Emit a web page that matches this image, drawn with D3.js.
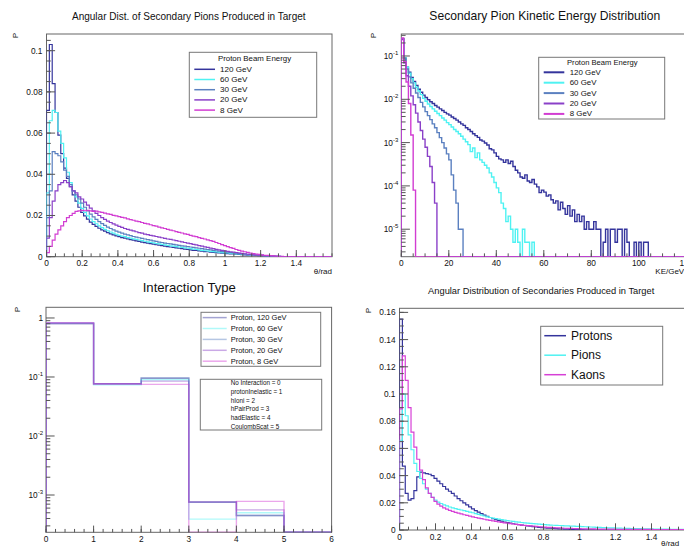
<!DOCTYPE html>
<html>
<head>
<meta charset="utf-8">
<script src="https://cdn.jsdelivr.net/npm/d3@7"></script>
<style>
body { margin: 0; background: #fff; }
svg { display: block; font-family: "Liberation Sans", Arial, sans-serif; }
</style>
</head>
<body>
<svg id="canvas" width="684" height="548"></svg>
<script>
// ---------- data ----------
var beamLabels = ["120 GeV", "60 GeV", "30 GeV", "20 GeV", "8 GeV"];
var particleLabels = ["Protons", "Pions", "Kaons"];
var processLabels = ["No Interaction = 0", "protonInelastic = 1", "hIoni = 2",
                     "hPairProd = 3", "hadElastic = 4", "CoulombScat = 5"];

// panel 1: pion angle (100 bins of 0.016 rad, missing bins are empty)
var piAng120 = [0.071,0.103,0.084,0.070,0.059,0.050,0.043,0.038,0.034,0.030,0.027,0.024,0.0215,
  0.0198,0.0182,0.0168,0.0157,0.0147,0.0138,0.0130,0.0124,0.0117,0.0111,0.0106,0.0101,
  0.0097,0.0093,0.0090,0.0087,0.0083,0.0080,0.0077,0.0074,0.0071,0.0068,0.0066,0.0063,0.0061,
  0.0058,0.0056,0.0054,0.0051,0.0049,0.0047,0.0045,0.0043,0.0041,0.0039,0.0037,0.0035,0.0033,
  0.0031,0.0030,0.0028,0.0027,0.0025,0.0024,0.0022,0.0021,0.0020,0.0018,0.0017,0.0016,0.0015,
  0.0014,0.0013,0.0012,0.0011,0.0010,0.0009,0.0008,0.0008,0.0007,0.0006,0.0005,0.0005,0.0004,
  0.0003,0.0003,0.0002,0.0002,0.0001,0.0001,0.00005,0.00003];
var piAng60 = [0.031,0.066,0.071,0.070,0.061,0.055,0.048,0.041,0.036,0.032,0.029,0.026,0.0235,
  0.0215,0.0198,0.0183,0.0170,0.0160,0.0150,0.0141,0.0133,0.0126,0.0120,0.0114,0.0109,
  0.0104,0.0100,0.0097,0.0093,0.0090,0.0087,0.0084,0.0081,0.0078,0.0075,0.0072,0.0070,0.0067,
  0.0064,0.0062,0.0060,0.0057,0.0055,0.0053,0.0051,0.0049,0.0047,0.0045,0.0043,0.0041,0.0039,
  0.0037,0.0035,0.0033,0.0031,0.0029,0.0028,0.0026,0.0025,0.0023,0.0022,0.0020,0.0019,0.0018,
  0.0016,0.0015,0.0014,0.0013,0.0012,0.0011,0.0010,0.0009,0.0008,0.0007,0.0006,0.0006,0.0005,
  0.0004,0.0003,0.0003,0.0002,0.0002,0.0001,0.0001,0.00005,0.00003];
var piAng30 = [0.019,0.032,0.051,0.050,0.049,0.046,0.042,0.039,0.035,0.032,0.030,0.028,0.026,
  0.0240,0.0222,0.0207,0.0193,0.0181,0.0170,0.0161,0.0152,0.0144,0.0137,0.0130,0.0124,
  0.0119,0.0114,0.0110,0.0106,0.0102,0.0098,0.0095,0.0092,0.0089,0.0086,0.0083,0.0080,0.0077,
  0.0074,0.0071,0.0069,0.0066,0.0064,0.0062,0.0060,0.0057,0.0055,0.0053,0.0051,0.0049,0.0047,
  0.0045,0.0043,0.0041,0.0039,0.0037,0.0035,0.0033,0.0031,0.0029,0.0027,0.0025,0.0024,0.0022,
  0.0020,0.0019,0.0017,0.0016,0.0014,0.0013,0.0012,0.0011,0.0009,0.0008,0.0007,0.0006,0.0005,
  0.0004,0.0004,0.0003,0.0002,0.0002,0.0001,0.0001,0.00005,0.00003];
var piAng20 = [0.009,0.019,0.027,0.032,0.035,0.036,0.037,0.036,0.034,0.032,0.031,0.029,0.028,
  0.0265,0.0250,0.0236,0.0222,0.0210,0.0200,0.0190,0.0181,0.0173,0.0166,0.0159,0.0153,
  0.0147,0.0142,0.0137,0.0133,0.0129,0.0125,0.0121,0.0117,0.0114,0.0110,0.0107,0.0104,0.0101,
  0.0098,0.0095,0.0092,0.0089,0.0086,0.0084,0.0081,0.0078,0.0075,0.0072,0.0069,0.0066,0.0063,
  0.0060,0.0057,0.0054,0.0051,0.0048,0.0045,0.0042,0.0039,0.0036,0.0033,0.0031,0.0028,0.0026,
  0.0024,0.0022,0.0020,0.0018,0.0016,0.0014,0.0012,0.0011,0.0009,0.0008,0.0007,0.0006,0.0005,
  0.0004,0.0003,0.0003,0.0002,0.0002,0.0001,0.0001,0.00005,0.00003];
var piAng8 = [0.002,0.005,0.008,0.011,0.013,0.015,0.017,0.019,0.020,0.021,0.022,0.0222,0.0225,
  0.0223,0.0225,0.0222,0.0220,0.0221,0.0218,0.0215,0.0212,0.0208,0.0205,0.0201,0.0198,
  0.0195,0.0191,0.0188,0.0184,0.0180,0.0177,0.0173,0.0170,0.0166,0.0162,0.0159,0.0155,0.0151,
  0.0148,0.0144,0.0140,0.0137,0.0133,0.0129,0.0126,0.0122,0.0118,0.0115,0.0111,0.0108,0.0104,
  0.0100,0.0097,0.0093,0.0089,0.0086,0.0082,0.0078,0.0074,0.0069,0.0064,0.0059,0.0054,0.0049,
  0.0044,0.0040,0.0035,0.0031,0.0027,0.0024,0.0021,0.0018,0.0015,0.0013,0.0011,0.0009,0.0007,
  0.0006,0.0005,0.0004,0.0003,0.0002,0.0002,0.0001,0.00005,0.00003];

// panel 2: pion kinetic energy (1 GeV bins, 0..120 GeV)
var piKE120 = [0.25,0.090,0.055,0.042,0.032,0.026,0.021,0.017,0.0145,0.0125,
  0.011,0.0098,0.0088,0.0080,0.0072,0.0066,0.0060,0.0055,0.0050,0.0046,
  0.0043,0.0039,0.0036,0.0033,0.0030,0.0027,0.0025,0.0022,0.0020,0.0018,
  0.0016,0.00145,0.00132,0.00115,0.00108,0.00098,0.00088,0.00072,0.00068,0.00058,
  0.00048,0.00042,0.00040,0.00035,0.00040,0.00033,0.00037,0.00028,0.00023,0.00020,
  0.00016,0.00015,0.00018,0.00013,0.00012,0.00014,0.00011,0.000095,0.00007,0.00008,
  7.2e-5,5.8e-5,6.2e-5,4.8e-5,4.0e-5,4.5e-5,2.8e-5,4.2e-5,3.0e-5,2.2e-5,
  3.5e-5,2.0e-5,2.8e-5,1.5e-5,2.2e-5,1.5e-5,2.0e-5,1.0e-5,1.5e-5,1.0e-5,
  1.0e-5,1.5e-5,1.0e-5,1.0e-5,0,5e-6,1.0e-5,0,1.0e-5,1.0e-5,
  5e-6,1.0e-5,1.0e-5,0,1.0e-5,5e-6,0,0,5e-6,0,
  5e-6,0,5e-6,5e-6];
var piKE60 = [0.25,0.090,0.055,0.040,0.030,0.024,0.019,0.0155,0.0128,0.0105,
  0.0090,0.0078,0.0068,0.0060,0.0053,0.0047,0.0042,0.0037,0.0033,0.0029,
  0.0026,0.0023,0.0020,0.0018,0.0016,0.0014,0.0012,0.00105,0.00090,0.00062,
  0.00075,0.00045,0.00058,0.00040,0.00035,0.00030,0.00026,0.00020,0.00016,0.00012,
  9e-5,7e-5,4e-5,3e-5,1.5e-5,2e-5,1e-5,5e-6,1e-5,5e-6,
  0,1e-5,5e-6,5e-6,0,5e-6];
var piKE30 = [0.25,0.085,0.050,0.033,0.024,0.018,0.014,0.011,0.0085,0.0067,
  0.0052,0.0042,0.0034,0.0027,0.0022,0.0017,0.0013,0.0010,0.00075,0.00055,
  0.00040,0.00018,0.00008,0.00004,1e-5,1e-5];
var piKE20 = [0.24,0.070,0.035,0.020,0.012,0.0075,0.0048,0.0030,0.0019,0.0012,
  0.00078,0.00048,0.00028,0.00012,0.00004];
var piKE8 = [0.26,0.075,0.025,0.008,0.0015,0.00008];

// panel 3: interaction type (bins 0..5)
var procP120 = [0.80, 0.077, 0.095, 7.6e-4, 4.5e-4, 0];
var procP60  = [0.82, 0.074, 0.090, 3.9e-4, 5.0e-4, 0];
var procP30  = [0.81, 0.077, 0.096, 7.5e-4, 4.5e-4, 0];
var procP20  = [0.82, 0.077, 0.085, 7.6e-4, 5.6e-4, 0];
var procP8   = [0.83, 0.076, 0.075, 0, 7.8e-4, 0];

// panel 4: secondaries angle (100 bins of 0.016 rad)
var protonAng = [0.155,0.047,0.027,0.022,0.023,0.029,0.039,0.0425,0.042,0.0415,
  0.041,0.040,0.038,0.036,0.034,0.032,0.030,0.0285,0.027,0.025,
  0.023,0.0215,0.020,0.0185,0.017,0.0155,0.0143,0.0132,0.0121,0.011,
  0.0101,0.0092,0.0084,0.0077,0.0071,0.0065,0.0059,0.0055,0.0050,0.0046,
  0.0042,0.0039,0.0036,0.0033,0.0030,0.0028,0.0025,0.0023,0.0020,0.0018,
  0.0016,0.0014,0.0013,0.0011,0.0010,0.0009,0.0008,0.0007,0.0006,0.0005,
  0.0004,0.0004,0.0003,0.0003,0.0002,0.0002,0.0002,0.0001,0.0001,0.0001,0.00005];
var pionAng = [0.066,0.100,0.084,0.070,0.059,0.049,0.043,0.038,0.034,0.030,
  0.027,0.024,0.022,0.0205,0.0195,0.0185,0.0177,0.0169,0.0163,0.0157,
  0.0152,0.0147,0.0142,0.0137,0.0132,0.0127,0.0121,0.0115,0.0109,0.0103,
  0.0097,0.0092,0.0088,0.0084,0.0080,0.0076,0.0072,0.0069,0.0066,0.0063,
  0.0060,0.0058,0.0055,0.0053,0.0051,0.0049,0.0047,0.0045,0.0043,0.0041,
  0.0039,0.0038,0.0036,0.0035,0.0034,0.0033,0.0032,0.0031,0.0030,0.0029,
  0.0028,0.0027,0.0026,0.0025,0.0024,0.0023,0.0022,0.0021,0.0020,0.0019,
  0.0018,0.0017,0.0016,0.0016,0.0015,0.0014,0.0014,0.0013,0.0012,0.0012,
  0.0011,0.0011,0.0010,0.0010,0.0009,0.0009,0.0008,0.0008,0.0007,0.0007,
  0.0007,0.0006,0.0006,0.0006,0.0005,0.0005,0.0005,0.0004,0.0004,0.0004];
var kaonAng = [0.089,0.128,0.110,0.090,0.072,0.061,0.052,0.044,0.037,0.031,
  0.027,0.024,0.021,0.019,0.0175,0.0163,0.0153,0.0145,0.0137,0.0130,
  0.0124,0.0118,0.0112,0.0107,0.0102,0.0097,0.0092,0.0088,0.0083,0.0079,
  0.0075,0.0071,0.0067,0.0063,0.0060,0.0056,0.0053,0.0050,0.0047,0.0044,
  0.0041,0.0039,0.0036,0.0034,0.0032,0.0030,0.0028,0.0026,0.0024,0.0023,
  0.0021,0.0020,0.0019,0.0017,0.0016,0.0015,0.0014,0.0013,0.0012,0.0012,
  0.0011,0.0010,0.0010,0.0009,0.0009,0.0008,0.0008,0.0008,0.0007,0.0007,
  0.0007,0.0006,0.0006,0.0006,0.0006,0.0005,0.0005,0.0005,0.0005,0.0005,
  0.0004,0.0004,0.0004,0.0004,0.0004,0.0004,0.0004,0.0004,0.0003,0.0003,
  0.0003,0.0003,0.0003,0.0003,0.0003,0.0003,0.0003,0.0003,0.0003,0.0003];

// tick values
var angXTicks = [0, 0.2, 0.4, 0.6, 0.8, 1, 1.2, 1.4];
var p1YTicks = [0, 0.02, 0.04, 0.06, 0.08, 0.1];
var keXTicks = [0, 20, 40, 60, 80, 100, 120];
var procXTicks = [0, 1, 2, 3, 4, 5, 6];
var p4YTicks = [0, 0.02, 0.04, 0.06, 0.08, 0.1, 0.12, 0.14, 0.16];

// ---------- styling ----------
var beamColors = ["#34349c", "#4ff2f2", "#5b80c0", "#8a40c8", "#d23cd2"];
var partColors = ["#34349c", "#4ff2f2", "#d640d6"];
var tickFont = 8.3;

var svg = d3.select("#canvas");
svg.append("rect").attr("width", 684).attr("height", 548).attr("fill", "#fff");

function makeFrame(id, f) {
  svg.append("clipPath").attr("id", id).append("rect")
    .attr("x", f.x0).attr("y", f.y0).attr("width", f.x1 - f.x0).attr("height", f.y1 - f.y0);
  var g = svg.append("g");
  g.append("rect").attr("x", f.x0).attr("y", f.y0)
    .attr("width", f.x1 - f.x0).attr("height", f.y1 - f.y0)
    .attr("fill", "none").attr("stroke", "#666").attr("stroke-width", 1);
  return g;
}

function drawHist(g, clip, xs, ys, binW, nBins, vals, color, lw, op) {
  var yb = ys.range()[0], yt = ys.range()[1];
  function yOf(v) {
    if (!(v > 0)) return yb;
    return Math.max(yt, Math.min(yb, ys(v)));
  }
  var pts = [[xs(0), yb]];
  for (var i = 0; i < nBins; i++) {
    var yy = yOf(vals[i] || 0);
    pts.push([xs(i * binW), yy]);
    pts.push([xs((i + 1) * binW), yy]);
  }
  pts.push([xs(nBins * binW), yb]);
  g.append("path").attr("clip-path", "url(#" + clip + ")")
    .attr("d", d3.line()(pts))
    .attr("fill", "none").attr("stroke", color)
    .attr("stroke-width", lw).attr("stroke-opacity", op || 1)
    .attr("stroke-linejoin", "miter");
}

function tick(g, x1, y1, x2, y2) {
  g.append("line").attr("x1", x1).attr("y1", y1).attr("x2", x2).attr("y2", y2)
    .attr("stroke", "#555").attr("stroke-width", 1);
}

function xAxis(g, xs, yb, majors, minorStep, len, fmt) {
  var d = xs.domain();
  d3.range(d[0], d[1] + 1e-9, minorStep).forEach(function(v) {
    tick(g, xs(v), yb, xs(v), yb - len / 2);
  });
  majors.forEach(function(v) {
    tick(g, xs(v), yb, xs(v), yb - len);
    g.append("text").attr("x", xs(v)).attr("y", yb + 9.5)
      .attr("text-anchor", "middle").attr("font-size", tickFont).attr("fill", "#111")
      .text(fmt(v));
  });
}

function yAxisLin(g, ys, xl, majors, minorStep, len, fmt) {
  var d = ys.domain();
  d3.range(d[0], d[1] + 1e-9, minorStep).forEach(function(v) {
    tick(g, xl, ys(v), xl + len / 2, ys(v));
  });
  majors.forEach(function(v) {
    tick(g, xl, ys(v), xl + len, ys(v));
    g.append("text").attr("x", xl - 4).attr("y", ys(v) + 3)
      .attr("text-anchor", "end").attr("font-size", tickFont).attr("fill", "#111")
      .text(fmt(v));
  });
}

function yAxisLog(g, ys, xl, len) {
  var d = ys.domain();
  var lo = Math.floor(Math.log10(d[0])), hi = Math.ceil(Math.log10(d[1]));
  for (var e = lo; e <= hi; e++) {
    for (var k = 2; k <= 9; k++) {
      var v = k * Math.pow(10, e);
      if (v >= d[0] && v <= d[1]) tick(g, xl, ys(v), xl + len / 2, ys(v));
    }
    var m = Math.pow(10, e);
    if (m < d[0] || m > d[1]) continue;
    tick(g, xl, ys(m), xl + len, ys(m));
    var t = g.append("text").attr("x", xl - 3).attr("y", ys(m) + 3)
      .attr("text-anchor", "end").attr("font-size", tickFont).attr("fill", "#111");
    if (e === 0) { t.text("1"); continue; }
    t.append("tspan").text("10");
    t.append("tspan").attr("dy", -4).attr("font-size", 6).text(String(e));
  }
}

function title(txt, cx, cy, w) {
  var t = svg.append("text").attr("x", cx).attr("y", cy).attr("text-anchor", "middle")
    .attr("dominant-baseline", "central").attr("fill", "#111").attr("font-size", 10).text(txt);
  var len = t.node().getComputedTextLength();
  t.attr("font-size", 10 * w / len);
}

function yTitle(x, y) {
  svg.append("text").attr("transform", "translate(" + x + "," + y + ") rotate(-90)")
    .attr("text-anchor", "end").attr("font-size", 8).attr("fill", "#111").text("P");
}

function xTitle(txt, x, y, anchor) {
  svg.append("text").attr("x", x).attr("y", y).attr("text-anchor", anchor)
    .attr("font-size", 8).attr("fill", "#111").text(txt);
}

function legendBox(x, y, w, h) {
  svg.append("rect").attr("x", x).attr("y", y).attr("width", w).attr("height", h)
    .attr("fill", "#fff").attr("stroke", "#777").attr("stroke-width", 1);
}

function legendEntry(lx0, lx1, tx, cy, color, lw, op, txt, fs) {
  svg.append("line").attr("x1", lx0).attr("x2", lx1).attr("y1", cy).attr("y2", cy)
    .attr("stroke", color).attr("stroke-width", lw).attr("stroke-opacity", op);
  svg.append("text").attr("x", tx).attr("y", cy).attr("dominant-baseline", "central")
    .attr("font-size", fs).attr("fill", "#111").text(txt);
}

var fmtLin = function(v) { return String(+v.toFixed(2)); };

// ---------- panel 1 ----------
var F1 = {x0: 46.5, x1: 332, y0: 34, y1: 256.7};
var x1s = d3.scaleLinear().domain([0, 1.6]).range([F1.x0, F1.x1]);
var y1s = d3.scaleLinear().domain([0, 0.1081]).range([F1.y1, F1.y0]);
var g1 = makeFrame("c1", F1);
[piAng120, piAng60, piAng30, piAng20, piAng8].forEach(function(s, i) {
  drawHist(g1, "c1", x1s, y1s, 0.016, 100, s, beamColors[i], 1.2);
});
xAxis(g1, x1s, F1.y1, angXTicks, 0.05, 6.7, fmtLin);
yAxisLin(g1, y1s, F1.x0, p1YTicks, 0.005, 8.6, fmtLin);
title("Angular Dist. of Secondary Pions Produced in Target", 188.8, 16, 234);
yTitle(18, 33);
xTitle("\u03b8/rad", 332, 274, "end");
legendBox(189.3, 52.3, 127.4, 65);
svg.append("text").attr("x", 254.5).attr("y", 58).attr("text-anchor", "middle")
  .attr("dominant-baseline", "central").attr("font-size", 7.9).attr("fill", "#111").text("Proton Beam Energy");
beamLabels.forEach(function(l, i) {
  legendEntry(194.3, 215, 220, 69.3 + i * 10.2, beamColors[i], 1.5, 1, l, 8.1);
});

// ---------- panel 2 ----------
var F2 = {x0: 401.3, x1: 686.3, y0: 34, y1: 256.7};
var x2s = d3.scaleLinear().domain([0, 120]).range([F2.x0, F2.x1]);
var y2s = d3.scaleLog().domain([Math.pow(10, -5.635), Math.pow(10, -0.492)]).range([F2.y1, F2.y0]);
var g2 = makeFrame("c2", F2);
[piKE120, piKE60, piKE30, piKE20, piKE8].forEach(function(s, i) {
  drawHist(g2, "c2", x2s, y2s, 1, 120, s, beamColors[i], 1.4);
});
xAxis(g2, x2s, F2.y1, keXTicks, 5, 6.7, function(v) { return String(v); });
yAxisLog(g2, y2s, F2.x0, 8.6);
title("Secondary Pion Kinetic Energy Distribution", 544.8, 16, 231);
yTitle(376, 33);
xTitle("KE/GeV", 655.3, 274, "start");
legendBox(538.7, 57.3, 126, 61.7);
svg.append("text").attr("x", 602.3).attr("y", 62.5).attr("text-anchor", "middle")
  .attr("dominant-baseline", "central").attr("font-size", 7.6).attr("fill", "#111").text("Proton Beam Energy");
beamLabels.forEach(function(l, i) {
  legendEntry(543.7, 564.3, 569.7, 72.3 + i * 10.4, beamColors[i], 2, 1, l, 7.9);
});

// ---------- panel 3 ----------
var F3 = {x0: 46, x1: 331.6, y0: 307.3, y1: 532.3};
var x3s = d3.scaleLinear().domain([0, 6]).range([F3.x0, F3.x1]);
var y3s = d3.scaleLog().domain([Math.pow(10, -3.632), Math.pow(10, 0.181)]).range([F3.y1, F3.y0]);
var g3 = makeFrame("c3", F3);
[procP120, procP60, procP30, procP20, procP8].forEach(function(s, i) {
  drawHist(g3, "c3", x3s, y3s, 1, 6, s, beamColors[i], 1.4, 0.45);
});
xAxis(g3, x3s, F3.y1, procXTicks, 0.2, 6.7, function(v) { return String(v); });
yAxisLog(g3, y3s, F3.x0, 8.6);
title("Interaction Type", 189.3, 287.3, 93.3);
yTitle(19.7, 307);
legendBox(201, 312.3, 119.7, 54);
beamLabels.forEach(function(l, i) {
  legendEntry(202.7, 226.7, 230.7, 317.6 + i * 10.9, beamColors[i], 1.5, 0.45, "Proton, " + l, 7.5);
});
legendBox(200.3, 379.3, 121.4, 50.7);
processLabels.forEach(function(l, i) {
  svg.append("text").attr("x", 230.7).attr("y", 382.9 + i * 8.65).attr("dominant-baseline", "central")
    .attr("font-size", 6.3).attr("fill", "#111").text(l);
});

// ---------- panel 4 ----------
var F4 = {x0: 399.5, x1: 687.5, y0: 308.3, y1: 530};
var x4s = d3.scaleLinear().domain([0, 1.6]).range([F4.x0, F4.x1]);
var y4s = d3.scaleLinear().domain([0, 0.163]).range([F4.y1, F4.y0]);
var g4 = makeFrame("c4", F4);
[protonAng, pionAng, kaonAng].forEach(function(s, i) {
  drawHist(g4, "c4", x4s, y4s, 0.016, 100, s, partColors[i], 1.2);
});
xAxis(g4, x4s, F4.y1, angXTicks, 0.05, 6.7, fmtLin);
yAxisLin(g4, y4s, F4.x0, p4YTicks, 0.005, 8.6, fmtLin);
title("Angular Distribution of Secondaries Produced in Target", 541.2, 290.7, 226.3);
yTitle(371, 308);
xTitle("\u03b8/rad", 661, 546, "start");
legendBox(540.7, 326.3, 122, 58.7);
particleLabels.forEach(function(l, i) {
  legendEntry(544.3, 566, 571, 335.7 + i * 19.5, partColors[i], 1.5, 1, l, 12);
});
</script>
</body>
</html>
